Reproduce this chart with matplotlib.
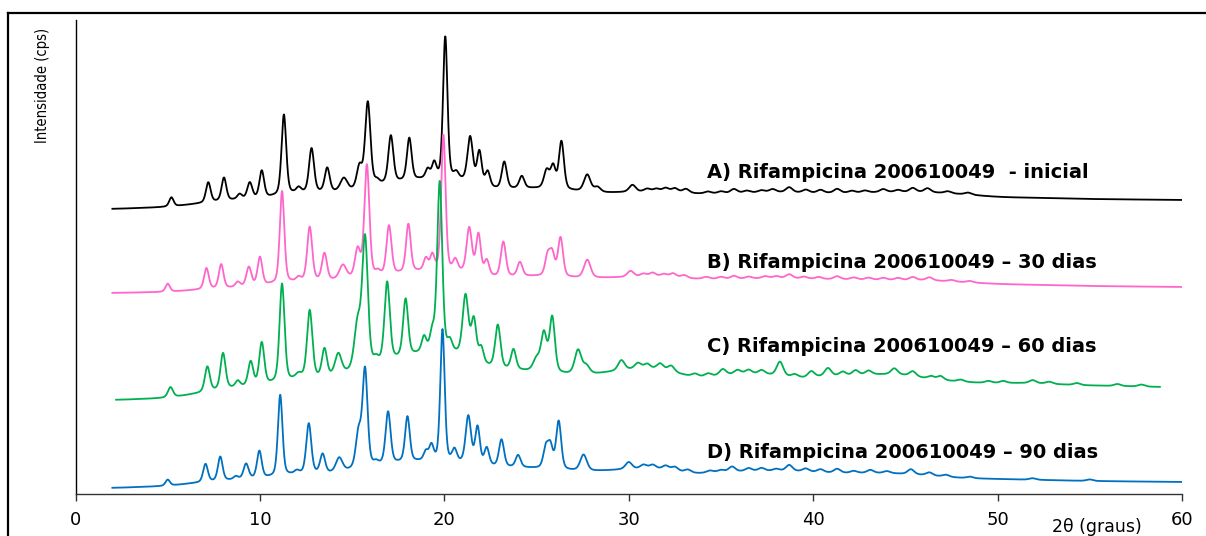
import numpy as np
import matplotlib
matplotlib.use("Agg")
import matplotlib.pyplot as plt
from matplotlib.lines import Line2D

# ---------------- data ----------------
labels = ["A) Rifampicina 200610049  - inicial",
          "B) Rifampicina 200610049 \u2013 30 dias",
          "C) Rifampicina 200610049 \u2013 60 dias",
          "D) Rifampicina 200610049 \u2013 90 dias"]
colors = ["#000000", "#ff66cc", "#00b050", "#0070c0"]
x_ticks = [0, 10, 20, 30, 40, 50, 60]
x_start = [2.0, 2.0, 2.2, 2.0]
x_end = [60.0, 60.0, 58.8, 60.0]

# background (amorphous halo) knots: 2theta, intensity
A_bg_x = [2, 5, 6.5, 8.5, 10.5, 11.8, 13, 15, 16.5, 18.7, 20.8, 22.6, 24.7, 27, 28.5, 30, 32, 34, 36, 38, 40, 42, 44, 46, 48, 50, 55, 60]
A_bg_y = [0, 2, 5, 9, 11, 16, 16, 17, 24, 30, 30, 19, 21, 18, 16, 17, 17, 15, 16, 17, 16, 16, 17, 17, 15, 12, 10, 9]
B_bg_x = [2, 5, 6.5, 8.5, 10.5, 12, 14, 16.5, 18.7, 20.8, 22.6, 24.7, 27, 28.5, 30, 32, 33.5, 36, 38, 40, 44, 46, 48, 50, 55, 60]
B_bg_y = [0, 1, 3, 5, 8, 11, 12, 16, 22, 21, 15, 17, 15, 15, 16, 16, 14, 14, 15, 14, 13, 13, 11, 9, 7, 6]
C_bg_x = [2.2, 5, 6.5, 8.5, 10.5, 12, 14, 16.3, 18.5, 20.5, 22.3, 24.2, 26.8, 28.5, 29.5, 31, 32.3, 33, 34.5, 35.5, 37, 38, 39.3, 40.5, 42, 43.5, 45.3, 46, 47.5, 49, 52, 54, 58.8]
C_bg_y = [0, 2, 6, 12, 15, 20, 22, 34, 46, 48, 32, 29, 25, 26, 30, 31, 30, 23, 23, 26, 26, 25, 21, 24, 24, 26, 25, 21, 19, 17, 17, 15, 13]
D_bg_x = [2, 5, 6.5, 8.5, 10.5, 12, 14, 16.3, 18.5, 20.8, 22.6, 24.7, 27, 28.5, 30, 32, 33.3, 35, 37, 39, 41, 44, 46, 48, 50, 55, 60]
D_bg_y = [0, 2, 5, 8, 10, 14, 14, 22, 27, 25, 21, 20, 17, 17, 19, 19, 14, 16, 17, 17, 15, 15, 13, 10, 9, 7, 6]

# reflections: position (2theta), height, FWHM
A_pos = [5.2, 7.2, 8.05, 8.9, 9.45, 10.1, 11.3, 12.1, 12.8, 13.65, 14.55, 15.4, 15.85, 16.35, 17.1, 18.1, 19.1, 19.45, 20.05, 20.65, 21.4, 21.9, 22.35, 23.25, 24.2, 25.55, 25.9, 26.35, 27.75, 28.3]
A_h = [9, 20, 23, 5, 16, 27, 80, 5, 44, 24, 13, 22, 85, 4, 47, 42, 9, 15, 142, 6, 45, 33, 15, 27, 12, 18, 22, 48, 17, 5]
A_w = [.28, .3, .3, .3, .32, .3, .3, .3, .32, .32, .45, .35, .34, .3, .32, .3, .28, .28, .28, .3, .34, .3, .3, .32, .32, .35, .32, .32, .42, .4]
A_bump_pos = [30.2, 31.0, 31.5, 32.0, 32.5, 33.1, 34.3, 35.0, 35.7, 36.4, 37.2, 37.8, 38.7, 39.6, 40.4, 41.3, 42.1, 42.8, 43.8, 44.6, 45.4, 46.2, 47.3, 48.4]
A_bump_h = [7, 3, 3, 4, 4, 4, 2, 2, 4, 2, 2, 3, 5, 3, 3, 4, 2, 2, 3, 2, 4, 4, 2, 2]

B_pos = [5.0, 7.1, 7.9, 8.8, 9.4, 10.0, 11.2, 12.1, 12.7, 13.5, 14.5, 15.3, 15.8, 16.4, 17.0, 18.05, 19.0, 19.35, 19.95, 20.6, 21.35, 21.85, 22.3, 23.2, 24.1, 25.6, 25.85, 26.3, 27.75]
B_h = [8, 21, 24, 5, 19, 28, 92, 4, 54, 27, 14, 28, 112, 4, 49, 48, 12, 15, 136, 11, 45, 40, 15, 35, 14, 20, 22, 39, 18]
B_w = [.28, .3, .3, .3, .32, .3, .29, .3, .32, .32, .45, .35, .32, .3, .32, .3, .28, .28, .28, .3, .34, .3, .3, .32, .32, .32, .32, .32, .42]
B_bump_pos = [30.1, 30.8, 31.3, 31.9, 32.4, 33.0, 34.2, 35.0, 35.7, 36.5, 37.4, 38.0, 38.7, 39.5, 40.3, 41.3, 42.2, 43.0, 43.8, 44.6, 45.4, 46.3, 47.5, 48.5]
B_bump_h = [6, 3, 4, 3, 4, 3, 2, 2, 3, 2, 2, 2, 4, 2, 2, 3, 2, 2, 2, 2, 3, 3, 1.5, 1.5]

C_pos = [5.15, 7.15, 8.0, 8.8, 9.5, 10.1, 11.2, 12.1, 12.7, 13.5, 14.25, 15.3, 15.7, 16.3, 16.9, 17.9, 18.9, 19.35, 19.75, 20.3, 21.15, 21.6, 22.0, 22.9, 23.75, 25.0, 25.4, 25.85, 27.25, 27.7]
C_h = [10, 25, 36, 6, 24, 42, 98, 5, 68, 28, 21, 45, 128, 5, 79, 57, 15, 18, 170, 10, 61, 40, 15, 43, 20, 12, 38, 55, 24, 8]
C_w = [.32, .32, .32, .3, .32, .32, .32, .4, .34, .32, .42, .42, .36, .3, .34, .32, .3, .3, .32, .3, .37, .32, .3, .34, .32, .42, .37, .34, .42, .42]
C_bump_pos = [29.6, 30.5, 31.0, 31.7, 32.3, 33.6, 34.3, 35.1, 35.9, 36.5, 37.2, 38.2, 39.0, 39.9, 40.8, 41.6, 42.3, 43.0, 44.4, 45.4, 46.4, 46.9, 48.0, 49.5, 50.3, 51.9, 52.8, 54.3, 56.5, 57.8]
C_bump_h = [10, 6, 5, 6, 6, 3, 3, 6, 4, 4, 4, 14, 3, 6, 8, 4, 5, 4, 6, 5, 3, 4, 2, 2, 2, 3, 2, 2, 2, 2]

D_pos = [5.0, 7.05, 7.85, 8.7, 9.25, 9.97, 11.1, 12.0, 12.65, 13.4, 14.3, 15.35, 15.7, 16.3, 16.95, 18.0, 19.0, 19.3, 19.9, 20.55, 21.3, 21.8, 22.3, 23.1, 24.0, 25.5, 25.75, 26.2, 27.55]
D_h = [6, 18, 24, 3, 15, 27, 81, 3, 50, 19, 14, 35, 97, 3, 52, 45, 9, 15, 132, 12, 47, 37, 17, 27, 12, 20, 22, 48, 16]
D_w = [.28, .3, .3, .3, .32, .3, .29, .3, .32, .32, .42, .35, .32, .3, .32, .3, .28, .28, .28, .3, .34, .3, .3, .32, .32, .32, .32, .32, .42]
D_bump_pos = [30.0, 30.8, 31.3, 32.0, 32.5, 33.2, 34.4, 35.0, 35.6, 36.5, 37.2, 38.0, 38.7, 39.6, 40.4, 41.3, 42.2, 43.1, 44.0, 45.3, 46.3, 47.2, 48.5, 51.9, 55.0]
D_bump_h = [7, 4, 4, 4, 4, 3, 2, 2, 5, 3, 3, 2, 6, 3, 3, 4, 2, 3, 2, 5, 3, 2, 1.5, 1.5, 1.5]

# ---------------- layout ----------------
W, H = 1206, 536
offsets = [285, 201, 94, 6]          # vertical stacking of the traces
label_y_px = [173, 262, 347, 453]
STEP = 0.02
BUMP_W = 0.42


def profile(x, c, h, w, eta=0.35):
    d2 = 4.0 * (x - c) ** 2 / w ** 2
    return h * (eta / (1 + d2) + (1 - eta) * np.exp(-np.log(2) * d2))


def pattern(x, bgx, bgy, pos, h, w, bpos, bh):
    y = np.interp(x, bgx, bgy)
    k = int(0.9 / STEP)
    ypad = np.concatenate([np.full(k, y[0]), y, np.full(k, y[-1])])
    y = np.convolve(ypad, np.ones(2 * k + 1) / (2 * k + 1), mode="same")[k:-k]
    for c, hh, ww in zip(pos, h, w):
        y = y + profile(x, c, hh, ww)
    for c, hh in zip(bpos, bh):
        y = y + profile(x, c, hh, BUMP_W)
    return y


series = [(A_bg_x, A_bg_y, A_pos, A_h, A_w, A_bump_pos, A_bump_h),
          (B_bg_x, B_bg_y, B_pos, B_h, B_w, B_bump_pos, B_bump_h),
          (C_bg_x, C_bg_y, C_pos, C_h, C_w, C_bump_pos, C_bump_h),
          (D_bg_x, D_bg_y, D_pos, D_h, D_w, D_bump_pos, D_bump_h)]

fig = plt.figure(figsize=(W / 100, H / 100), dpi=100)
ax = fig.add_axes([75.5 / W, 42 / H, (1182 - 75.5) / W, 474 / H])

for i, s in enumerate(series):
    x = np.arange(x_start[i], x_end[i] + 1e-9, STEP)
    y = pattern(x, *s) + offsets[i]
    ax.plot(x, y, color=colors[i], lw=1.3, solid_joinstyle="round")

ax.set_xlim(0, 60)
ax.set_ylim(0, 474)
ax.set_xticks(x_ticks)
ax.set_xticklabels([str(t) for t in x_ticks], fontsize=13,
                   family=["DejaVu Sans"])
ax.set_yticks([])
for s in ["top", "right"]:
    ax.spines[s].set_visible(False)
ax.spines["left"].set_linewidth(1.0)
ax.spines["bottom"].set_linewidth(1.0)
ax.spines["bottom"].set_color("#333333")
ax.tick_params(axis="x", direction="out", length=5, width=1, pad=7,
               color="#333333")

for lab, py in zip(labels, label_y_px):
    fig.text(707 / W, 1 - py / H, lab, fontsize=14, fontweight="bold",
             family=["DejaVu Sans"], ha="left", va="center", color="black")

fig.text(1097 / W, 1 - 527 / H, "2\u03b8 (graus)", fontsize=12.5,
         family=["DejaVu Sans"], ha="center", va="center")
fig.text(42 / W, 1 - 85 / H, "Intensidade (cps)", rotation=90, fontsize=10.5,
         family=["DejaVu Sans"], fontstretch="condensed",
         ha="center", va="center")

# outer frame (clipped by the image edge)
fig.add_artist(Line2D([7.5 / W, 7.5 / W], [0, 1 - 12.5 / H], transform=fig.transFigure,
                      color="black", lw=1.6, solid_capstyle="projecting"))
fig.add_artist(Line2D([7.5 / W, 1.0], [1 - 12.5 / H, 1 - 12.5 / H], transform=fig.transFigure,
                      color="black", lw=1.6, solid_capstyle="projecting"))

fig.savefig("out.png", dpi=100)
